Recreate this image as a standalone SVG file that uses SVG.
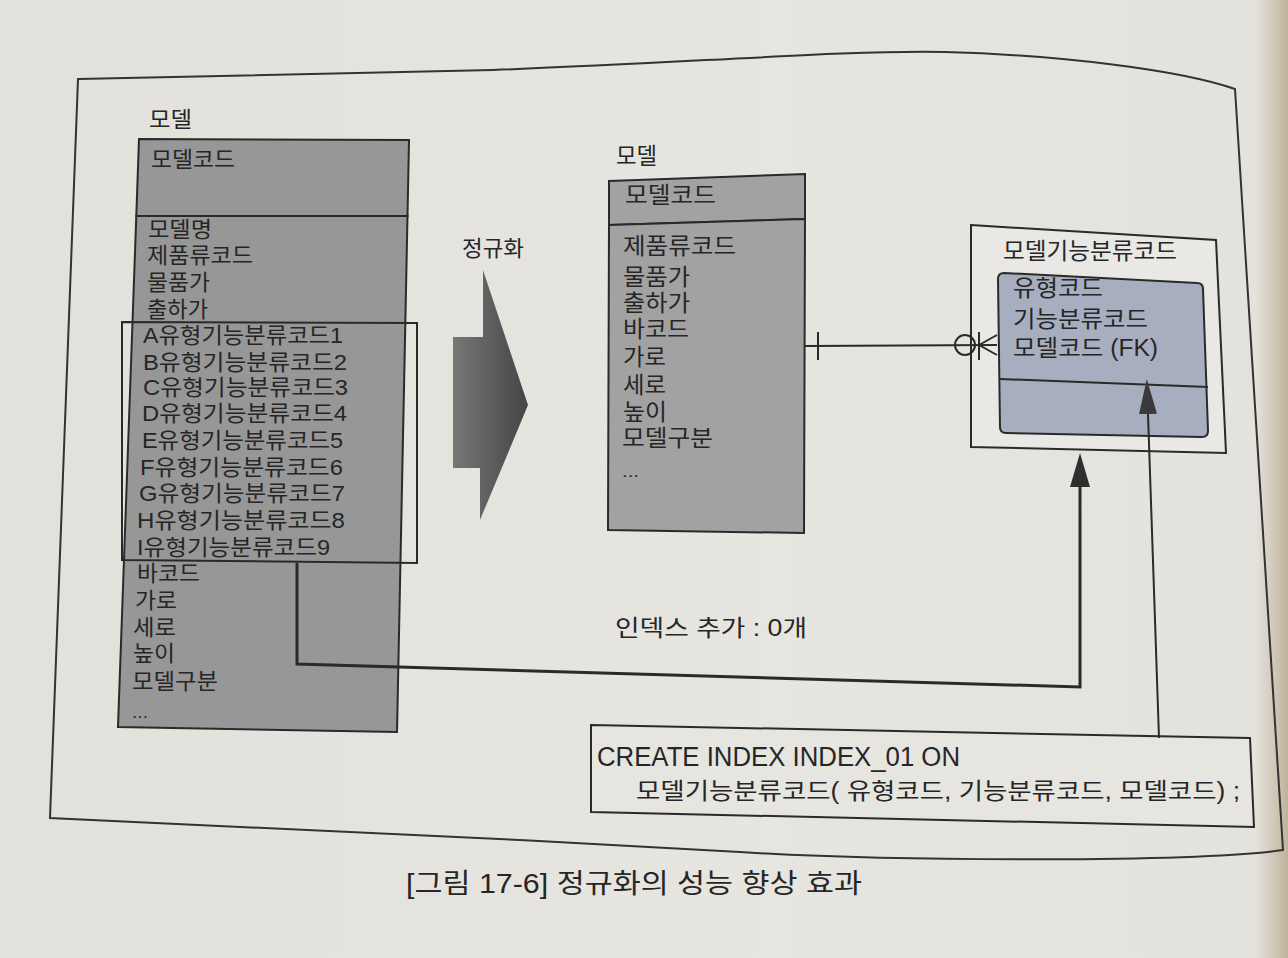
<svg xmlns="http://www.w3.org/2000/svg" width="1288" height="958" viewBox="0 0 1288 958">
  <defs>
    <linearGradient id="paper" x1="0" y1="0" x2="1" y2="0">
      <stop offset="0" stop-color="#e2e1dc"/>
      <stop offset="0.6" stop-color="#e6e5e0"/>
      <stop offset="0.975" stop-color="#e4e2dc"/>
      <stop offset="0.99" stop-color="#cfc7b6"/>
      <stop offset="1" stop-color="#bfb29a"/>
    </linearGradient>
    <linearGradient id="bigArrow" x1="0" y1="0" x2="1" y2="0">
      <stop offset="0" stop-color="#777777"/>
      <stop offset="1" stop-color="#454545"/>
    </linearGradient>
    <marker id="headBold" markerUnits="userSpaceOnUse" viewBox="0 0 34 20" markerWidth="34" markerHeight="20" refX="0" refY="10" orient="auto">
      <path d="M0,0 L34,10 L0,20 Z" fill="#2e2e2e"/>
    </marker>
    <marker id="headThin" markerUnits="userSpaceOnUse" viewBox="0 0 35 18" markerWidth="35" markerHeight="18" refX="0" refY="9" orient="auto">
      <path d="M0,0 L35,9 L0,18 Z" fill="#3a3a3a"/>
    </marker>
    <style>
      .t { font-family: "Liberation Sans", "Noto Sans CJK KR", sans-serif; fill: #262626; }
      .k22 { font-size: 22px; }
      .k23 { font-size: 23px; }
      .k27 { font-size: 27px; }
      .box { stroke: #2a2a2a; stroke-width: 2; stroke-linejoin: miter; }
      .gray1 { fill: #979797; }
      .gray2 { fill: #a2a2a2; }
      .blue { fill: #a7aebf; }
      .line { fill: none; stroke: #2a2a2a; }
    </style>
  </defs>

  <!-- paper -->
  <rect x="0" y="0" width="1288" height="958" fill="url(#paper)"/>

  <!-- figure frame -->
  <path id="frame" d="M78,79 L493,70 C700,62 850,50 945,52 C1060,55 1180,70 1235,89 L1283,850 C1200,862 900,862 740,852 C500,838 200,824 50,818 Z" fill="none" stroke="#333" stroke-width="2"/>

  <!-- entity: 모델 (before normalisation) -->
  <g id="model-wide">
    <text class="t k22" x="149" y="127" textLength="43" lengthAdjust="spacingAndGlyphs">모델</text>
    <polygon class="box gray1" points="139,139 409,140 407.5,216 136.3,216"/>
    <polygon class="box gray1" points="136.3,216 407.5,216 397,732 118,727"/>
    <text class="t k22" x="151" y="167" textLength="84" lengthAdjust="spacingAndGlyphs">모델코드</text>
    <text class="t k22" x="148" y="237" textLength="64" lengthAdjust="spacingAndGlyphs">모델명</text>
    <text class="t k22" x="147" y="263" textLength="106" lengthAdjust="spacingAndGlyphs">제품류코드</text>
    <text class="t k22" x="147" y="290" textLength="63" lengthAdjust="spacingAndGlyphs">물품가</text>
    <text class="t k22" x="147" y="317" textLength="61" lengthAdjust="spacingAndGlyphs">출하가</text>
    <text class="t k22" x="143" y="343" textLength="200" lengthAdjust="spacingAndGlyphs">A유형기능분류코드1</text>
    <text class="t k22" x="143" y="370" textLength="204" lengthAdjust="spacingAndGlyphs">B유형기능분류코드2</text>
    <text class="t k22" x="143" y="395" textLength="205" lengthAdjust="spacingAndGlyphs">C유형기능분류코드3</text>
    <text class="t k22" x="142" y="421" textLength="205" lengthAdjust="spacingAndGlyphs">D유형기능분류코드4</text>
    <text class="t k22" x="142" y="448" textLength="201" lengthAdjust="spacingAndGlyphs">E유형기능분류코드5</text>
    <text class="t k22" x="140" y="475" textLength="203" lengthAdjust="spacingAndGlyphs">F유형기능분류코드6</text>
    <text class="t k22" x="139" y="501" textLength="206" lengthAdjust="spacingAndGlyphs">G유형기능분류코드7</text>
    <text class="t k22" x="137" y="528" textLength="208" lengthAdjust="spacingAndGlyphs">H유형기능분류코드8</text>
    <text class="t k22" x="137" y="555" textLength="193" lengthAdjust="spacingAndGlyphs">I유형기능분류코드9</text>
    <text class="t k22" x="137" y="581" textLength="63" lengthAdjust="spacingAndGlyphs">바코드</text>
    <text class="t k22" x="135" y="608" textLength="42" lengthAdjust="spacingAndGlyphs">가로</text>
    <text class="t k22" x="133" y="635" textLength="43" lengthAdjust="spacingAndGlyphs">세로</text>
    <text class="t k22" x="133" y="661" textLength="42" lengthAdjust="spacingAndGlyphs">높이</text>
    <text class="t k22" x="132" y="689" textLength="86" lengthAdjust="spacingAndGlyphs">모델구분</text>
    <text class="t" font-size="16" x="132" y="718" textLength="16" lengthAdjust="spacingAndGlyphs">...</text>
    <!-- repeating-group highlight -->
    <polygon class="line" stroke-width="2" points="122,322 417,323 417,563 122,560"/>
  </g>

  <!-- normalisation arrow -->
  <g id="normalize">
    <text class="t k22" x="462" y="256" textLength="62" lengthAdjust="spacingAndGlyphs">정규화</text>
    <polygon points="483,270 528,405 480,520 480,468 453,468 453,337 483,337" fill="url(#bigArrow)"/>
  </g>

  <!-- entity: 모델 (after normalisation) -->
  <g id="model-normalized">
    <text class="t k23" x="616" y="164" textLength="41" lengthAdjust="spacingAndGlyphs">모델</text>
    <polygon class="box gray2" points="609,181 805,174 805,219 609,225"/>
    <polygon class="box gray2" points="609,225 805,219 804,533 608,530"/>
    <text class="t k23" x="625" y="203" textLength="91" lengthAdjust="spacingAndGlyphs">모델코드</text>
    <text class="t k23" x="623" y="254" textLength="113" lengthAdjust="spacingAndGlyphs">제품류코드</text>
    <text class="t k23" x="623" y="285" textLength="67" lengthAdjust="spacingAndGlyphs">물품가</text>
    <text class="t k23" x="623" y="311" textLength="67" lengthAdjust="spacingAndGlyphs">출하가</text>
    <text class="t k23" x="623" y="337" textLength="66" lengthAdjust="spacingAndGlyphs">바코드</text>
    <text class="t k23" x="623" y="365" textLength="43" lengthAdjust="spacingAndGlyphs">가로</text>
    <text class="t k23" x="623" y="393" textLength="43" lengthAdjust="spacingAndGlyphs">세로</text>
    <text class="t k23" x="623" y="420" textLength="44" lengthAdjust="spacingAndGlyphs">높이</text>
    <text class="t k23" x="622" y="446" textLength="91" lengthAdjust="spacingAndGlyphs">모델구분</text>
    <text class="t" font-size="16" x="622" y="477" textLength="17" lengthAdjust="spacingAndGlyphs">...</text>
  </g>

  <!-- entity: 모델기능분류코드 -->
  <g id="model-function-class">
    <polygon class="box" points="971,225 1216,240 1226,453 971,447" fill="#e9e8e4"/>
    <text class="t k23" x="1003" y="259" textLength="174" lengthAdjust="spacingAndGlyphs">모델기능분류코드</text>
    <path class="box blue" d="M1004,273 L1197,283 Q1203,283 1203,289 L1208,431 Q1208,437 1202,437 L1006,433 Q1000,433 1000,427 L998,279 Q998,273 1004,273 Z"/>
    <line x1="1000" y1="379" x2="1208" y2="387" stroke="#2a2a2a" stroke-width="2"/>
    <text class="t k23" x="1013" y="296" textLength="90" lengthAdjust="spacingAndGlyphs">유형코드</text>
    <text class="t k23" x="1013" y="327" textLength="135" lengthAdjust="spacingAndGlyphs">기능분류코드</text>
    <text class="t k23" x="1013" y="356" textLength="145" lengthAdjust="spacingAndGlyphs">모델코드 (FK)</text>
  </g>

  <!-- index definition -->
  <g id="create-index">
    <polygon class="box" points="591,725 1250,738 1254,827 591,812" fill="#e6e5e0"/>
    <text class="t k27" x="597" y="766" textLength="363" lengthAdjust="spacingAndGlyphs">CREATE INDEX INDEX_01 ON</text>
    <text class="t k23" x="636" y="799" textLength="604" lengthAdjust="spacingAndGlyphs">모델기능분류코드( 유형코드, 기능분류코드, 모델코드) ;</text>
  </g>

  <!-- notes -->
  <g id="labels">
    <text class="t k23" x="615" y="636" textLength="192" lengthAdjust="spacingAndGlyphs">인덱스 추가 : 0개</text>
    <text class="t k27" x="406" y="893" textLength="456" lengthAdjust="spacingAndGlyphs">[그림 17-6] 정규화의 성능 향상 효과</text>
  </g>

  <!-- connectors -->
  <g id="connectors">
    <!-- 1:N relationship 모델 — 모델기능분류코드 -->
    <line class="line" stroke-width="2" x1="805" y1="346" x2="997" y2="345"/>
    <line class="line" stroke-width="2" x1="818" y1="332" x2="818" y2="360"/>
    <circle cx="965" cy="345" r="10" fill="none" stroke="#2a2a2a" stroke-width="2"/>
    <line class="line" stroke-width="2" x1="979" y1="332" x2="979" y2="360"/>
    <line class="line" stroke-width="2" x1="979" y1="345" x2="997" y2="335"/>
    <line class="line" stroke-width="2" x1="979" y1="345" x2="997" y2="355"/>
    <!-- repeating group moved to its own entity -->
    <polyline class="line" stroke-width="3" stroke-linejoin="miter" points="297,563 297,664 1080,687 1080,487" marker-end="url(#headBold)"/>
    <!-- index applied to the new entity -->
    <line class="line" stroke-width="2" x1="1159" y1="738" x2="1148" y2="414" marker-end="url(#headThin)"/>
  </g>
</svg>
